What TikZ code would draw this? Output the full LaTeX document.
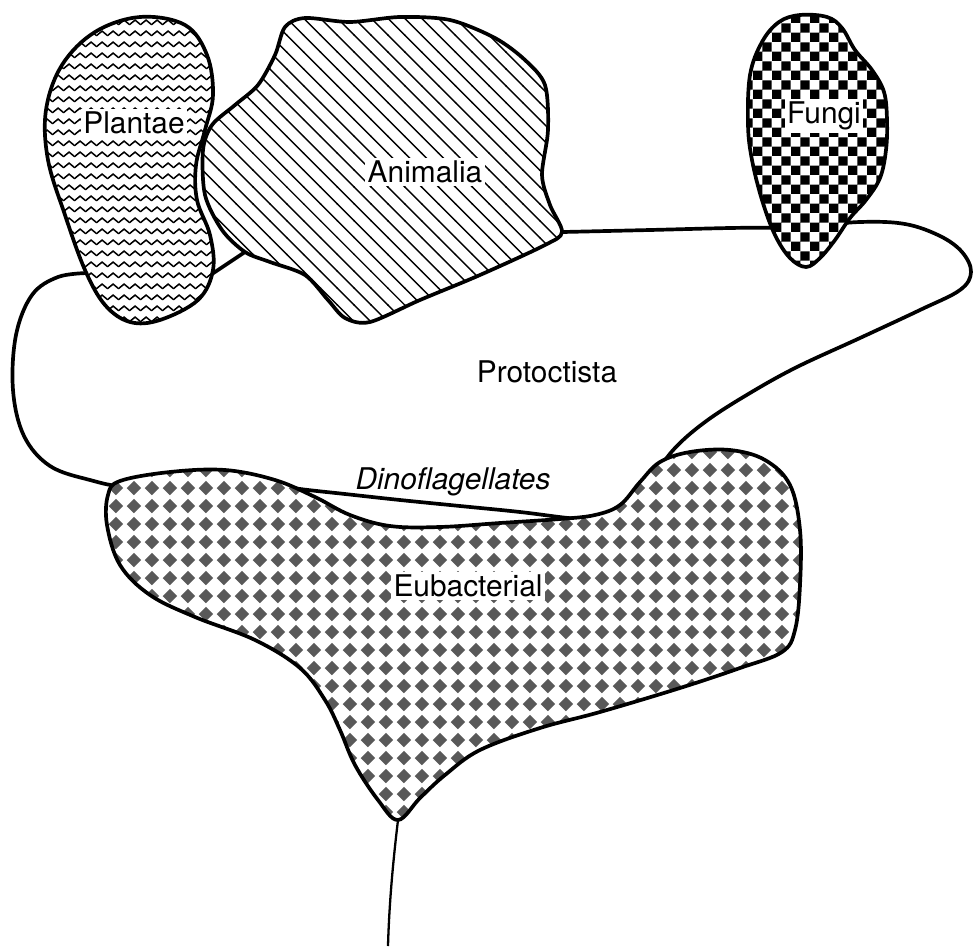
\documentclass[tikz,border=0pt]{standalone}
\usepackage{fontspec}
\setmainfont{TeX Gyre Heros}
\usetikzlibrary{patterns}

% fill patterns of the kingdoms
\pgfdeclarepatternformonly{plantwaves}{\pgfqpoint{0pt}{0pt}}{\pgfqpoint{6pt}{6pt}}{\pgfqpoint{6pt}{6pt}}{%
  \pgfsetlinewidth{0.9pt}%
  \pgfpathmoveto{\pgfqpoint{-0.4pt}{1.3pt}}%
  \pgfpathlineto{\pgfqpoint{3pt}{4.1pt}}%
  \pgfpathlineto{\pgfqpoint{6.4pt}{1.3pt}}%
  \pgfusepath{stroke}}
\pgfdeclarepatternformonly{animallines}{\pgfqpoint{-1pt}{-1pt}}{\pgfqpoint{10.6pt}{10.6pt}}{\pgfqpoint{9.6pt}{9.6pt}}{%
  \pgfsetlinewidth{0.8pt}%
  \pgfpathmoveto{\pgfqpoint{-0.2pt}{9.8pt}}%
  \pgfpathlineto{\pgfqpoint{9.8pt}{-0.2pt}}%
  \pgfusepath{stroke}}
\pgfdeclarepatternformonly{fungichecks}{\pgfqpoint{0pt}{0pt}}{\pgfqpoint{11pt}{11pt}}{\pgfqpoint{11pt}{11pt}}{%
  \pgfpathrectangle{\pgfqpoint{0pt}{0pt}}{\pgfqpoint{5.5pt}{5.5pt}}%
  \pgfpathrectangle{\pgfqpoint{5.5pt}{5.5pt}}{\pgfqpoint{5.5pt}{5.5pt}}%
  \pgfusepath{fill}}
\pgfdeclarepatternformonly{bacdiamonds}{\pgfqpoint{0pt}{0pt}}{\pgfqpoint{10.2pt}{10.2pt}}{\pgfqpoint{10.2pt}{10.2pt}}{%
  \pgfpathmoveto{\pgfqpoint{5.1pt}{1pt}}%
  \pgfpathlineto{\pgfqpoint{9.2pt}{5.1pt}}%
  \pgfpathlineto{\pgfqpoint{5.1pt}{9.2pt}}%
  \pgfpathlineto{\pgfqpoint{1pt}{5.1pt}}%
  \pgfpathclose
  \pgfusepath{fill}}

\begin{document}
\begin{tikzpicture}[
    x=0.02cm, y=-0.02cm,
    blob/.style={draw, line width=2.1pt, line join=round, preaction={fill=white}},
    kingdom/.style={fill=white, inner sep=1.5pt, font=\fontsize{17}{20}\selectfont},
    stem/.style={line width=1.3pt}
]
\useasboundingbox (0,0) rectangle (973,946);

% Protoctista
\draw[blob] plot[smooth, tension=0.6] coordinates {(563,232) (650,230) (730,228) (800,227)
    (860,222) (905,224) (940,236) (962,252) (971,272) (960,290) (920,310) (860,338) (795,368)
    (745,396) (705,422) (675,448) (652,478) (630,505) (598,520) (568,518) (520,512) (460,506)
    (400,500) (345,494) (300,489) (270,484) (225,476) (170,478) (125,486) (90,480) (50,466)
    (24,436) (13,390) (16,335) (32,295) (58,277) (88,273)}
    -- (150,300) -- (200,282) -- (248,250) -- (400,265) -- cycle;

% Eubacteria
\draw[blob, pattern=bacdiamonds, pattern color=black!65] plot[smooth cycle, tension=0.6] coordinates {
    (120,481) (170,472) (225,470) (275,480) (315,497) (350,515) (390,526) (440,527) (500,523)
    (560,519) (595,515) (620,505) (640,482) (660,462) (690,452) (730,450) (765,460) (790,485)
    (800,530) (800,585) (795,630) (782,652) (740,668) (680,688) (600,712) (540,728) (480,750)
    (445,775) (420,798) (398,820) (378,800) (355,765) (340,730) (325,700) (300,668) (255,640)
    (195,617) (150,595) (120,565) (107,525) (108,495)};

% Plantae
\draw[blob, pattern=plantwaves] plot[smooth cycle, tension=0.6] coordinates {
    (140,17) (185,25) (207,55) (213,95) (205,130) (196,165) (197,200) (210,235) (213,270)
    (198,300) (160,320) (130,322) (105,305) (85,270) (65,215) (48,160) (46,110) (62,65) (95,32)};

% Animalia
\draw[blob, pattern=animallines] plot[smooth cycle, tension=0.5] coordinates {
    (285,27) (305,18) (350,22) (400,17) (450,20) (495,38) (525,60) (545,85) (548,130) (542,175)
    (550,205) (562,232) (545,245) (480,275) (420,300) (370,322) (345,318) (328,300) (305,275)
    (270,262) (245,252) (222,230) (205,195) (203,150) (212,125) (235,105) (258,85) (275,55)};

% Fungi
\draw[blob, pattern=fungichecks] plot[smooth cycle, tension=0.6] coordinates {
    (800,15) (827,17) (842,28) (855,50) (872,70) (884,92) (887,120) (886,150) (880,178)
    (866,200) (850,218) (835,240) (820,258) (806,267) (790,258) (775,235) (762,200) (752,160)
    (748,125) (750,75) (762,42) (779,22)};

% Labels
\node[kingdom] (plantae)  at (134,123) {Plantae};
\node[kingdom] (animalia) at (425,172) {Animalia};
\node[kingdom] (fungi)    at (824,116) {Fungi};
\node[kingdom, fill=none] (protoctista) at (547,372) {Protoctista};
\node[kingdom, fill=none] (dino) at (453,482) {\itshape Dinoflagellates};
\node[kingdom] (eubact)   at (468,586) {Eubacterial};

% Stem
\coordinate (root) at (398,820);
\coordinate (base) at (388,946);
\draw[stem] (root) .. controls (392,870) and (389,910) .. (base);
\end{tikzpicture}
\end{document}
